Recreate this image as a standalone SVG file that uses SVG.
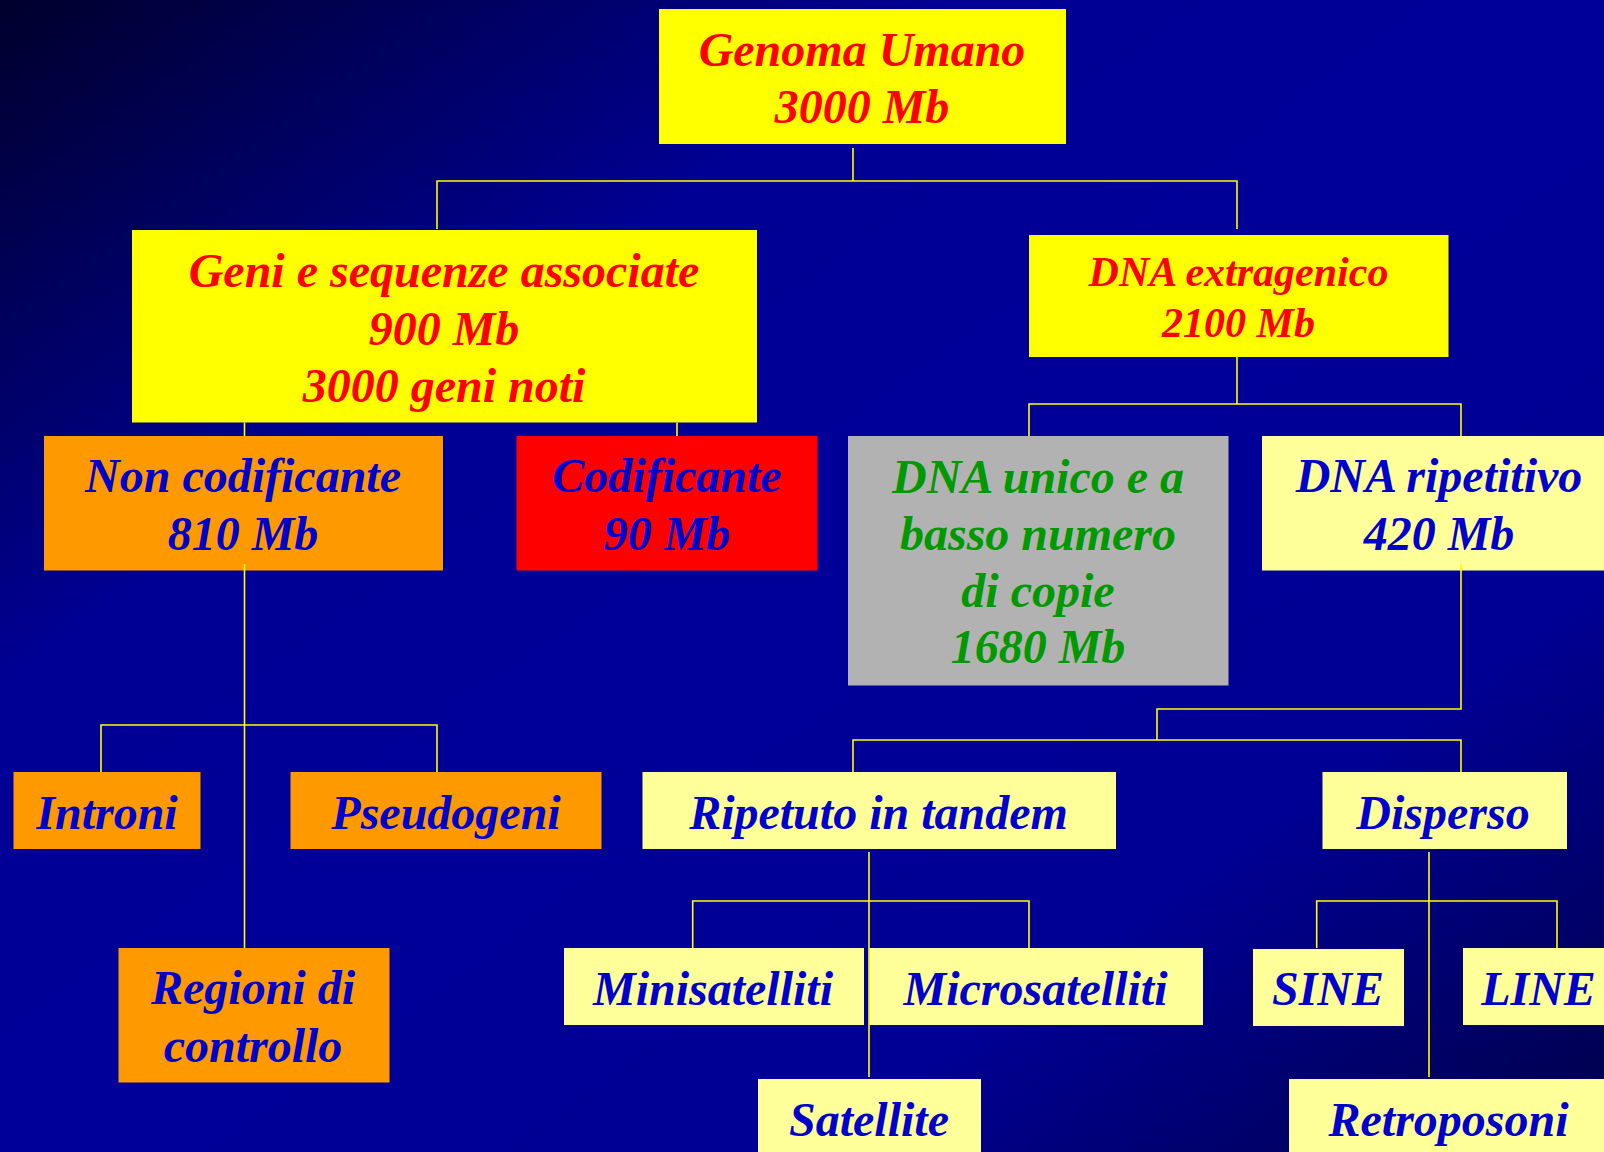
<svg xmlns="http://www.w3.org/2000/svg" width="1604" height="1152" viewBox="0 0 1604 1152">
<defs>
<linearGradient id="bg" x1="0" y1="0" x2="1" y2="1">
<stop offset="0" stop-color="#00002c"/>
<stop offset="0.3" stop-color="#000094"/>
<stop offset="0.5" stop-color="#000099"/>
<stop offset="0.75" stop-color="#000094"/>
<stop offset="1" stop-color="#000048"/>
</linearGradient>
</defs>
<style>
text{font-family:"Liberation Serif","Times New Roman",serif;font-weight:bold;font-style:italic;font-size:48px;text-anchor:middle}
.y{fill:#FFFF00}.o{fill:#FF9900}.r{fill:#FF0000}.g{fill:#B2B2B2}.ly{fill:#FFFF99}
.tr{fill:#FF0000}.tb{fill:#0000CC}.tg{fill:#009900}
.c{stroke:#FFFF00;stroke-width:1.6;fill:none}
</style>
<rect width="1604" height="1152" fill="url(#bg)"/>
<g id="genoma"><rect class="y" x="659" y="9" width="407" height="135"/>
<text class="tr" x="862" y="65.5">Genoma Umano</text><text class="tr" x="862" y="123">3000 Mb</text></g>
<g id="geni"><rect class="y" x="132" y="230" width="625" height="192.5"/>
<text class="tr" x="444" y="287">Geni e sequenze associate</text><text class="tr" x="444" y="344.5">900 Mb</text><text class="tr" x="444" y="402">3000 geni noti</text></g>
<g id="extragenico"><rect class="y" x="1029" y="235" width="419.5" height="122"/>
<text class="tr" x="1238.5" y="286" style="font-size:42px">DNA extragenico</text><text class="tr" x="1238.5" y="336.5" style="font-size:42px">2100 Mb</text></g>
<g id="noncod"><rect class="o" x="44" y="436" width="399" height="134.5"/>
<text class="tb" x="243" y="492">Non codificante</text><text class="tb" x="243" y="550">810 Mb</text></g>
<g id="cod"><rect class="r" x="516.5" y="436" width="301" height="134.5"/>
<text class="tb" x="667" y="492">Codificante</text><text class="tb" x="667" y="550">90 Mb</text></g>
<g id="unico"><rect class="g" x="848" y="436" width="380.5" height="249.5"/>
<text class="tg" x="1038" y="492.5">DNA unico e a</text><text class="tg" x="1038" y="550">basso numero</text><text class="tg" x="1038" y="606.5">di copie</text><text class="tg" x="1038" y="663">1680 Mb</text></g>
<g id="ripetitivo"><rect class="ly" x="1262" y="436" width="360" height="134.5"/>
<text class="tb" x="1439" y="492">DNA ripetitivo</text><text class="tb" x="1439" y="550">420 Mb</text></g>
<g id="introni"><rect class="o" x="13.5" y="772" width="187" height="77"/>
<text class="tb" x="107" y="829">Introni</text></g>
<g id="pseudogeni"><rect class="o" x="290.5" y="772" width="311" height="77"/>
<text class="tb" x="446" y="829">Pseudogeni</text></g>
<g id="regioni"><rect class="o" x="118.5" y="948" width="271" height="134.5"/>
<text class="tb" x="253" y="1004">Regioni di</text><text class="tb" x="253" y="1062">controllo</text></g>
<g id="tandem"><rect class="ly" x="642.5" y="772" width="473.5" height="77"/>
<text class="tb" x="878.5" y="829">Ripetuto in tandem</text></g>
<g id="disperso"><rect class="ly" x="1322.5" y="772" width="244.5" height="77"/>
<text class="tb" x="1443" y="829">Disperso</text></g>
<g id="minisatelliti"><rect class="ly" x="564" y="948" width="300" height="77"/>
<text class="tb" x="713" y="1004.5">Minisatelliti</text></g>
<g id="microsatelliti"><rect class="ly" x="869.3" y="948" width="333.7" height="77"/>
<text class="tb" x="1035.5" y="1004.5">Microsatelliti</text></g>
<g id="satellite"><rect class="ly" x="758" y="1079" width="223" height="80"/>
<text class="tb" x="869" y="1136">Satellite</text></g>
<g id="sine"><rect class="ly" x="1253" y="949" width="151" height="77"/>
<text class="tb" x="1328" y="1004.5">SINE</text></g>
<g id="line"><rect class="ly" x="1463" y="948" width="160" height="77"/>
<text class="tb" x="1538.5" y="1004.5">LINE</text></g>
<g id="retroposoni"><rect class="ly" x="1289" y="1079" width="330" height="80"/>
<text class="tb" x="1448.5" y="1136">Retroposoni</text></g>
<g id="connectors" class="c">
<path class="c" d="M853 148V181M437 229V181H1237V229"/>
<path class="c" d="M244.5 422.5V436M677 422.5V436"/>
<path class="c" d="M1237 357V404M1029 436V404H1461V436"/>
<path class="c" d="M244.5 564V948M101 772V725H437V772"/>
<path class="c" d="M1461 564V709H1157V740M853 772V740H1461V772"/>
<path class="c" d="M869 852V1077M692.7 948V901H1029V948"/>
<path class="c" d="M1429 852V1077M1316.7 948V901H1557V948"/>
</g>
</svg>
